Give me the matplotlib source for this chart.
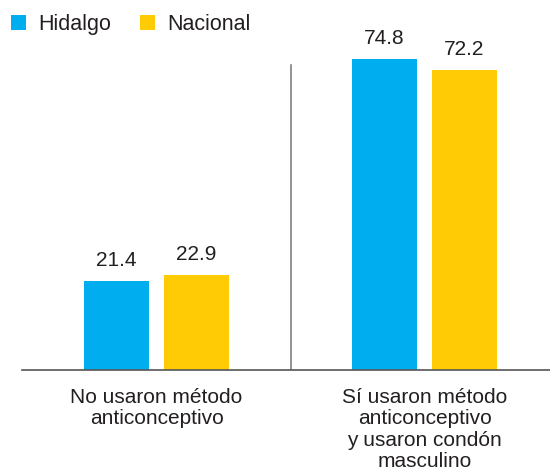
import matplotlib
matplotlib.use("Agg")
import matplotlib.pyplot as plt
import numpy as np

# data
categories = ["No usaron método\nanticonceptivo",
              "Sí usaron método\nanticonceptivo\ny usaron condón\nmasculino"]
series_names = ["Hidalgo", "Nacional"]
hidalgo = [21.4, 74.8]
nacional = [22.9, 72.2]

colors = ["#00AEEF", "#FFCB05"]
text_color = "#231F20"

plt.rcParams["font.family"] = ["Liberation Sans", "DejaVu Sans"]

fig = plt.figure(figsize=(5.5, 4.74), dpi=100)
ax = fig.add_axes([22 / 550, 104 / 474, 528 / 550, 370 / 474])

x = np.arange(len(categories))
offset = 0.149
width = 0.243

for vals, name, col, sgn in zip([hidalgo, nacional], series_names, colors, [-1, 1]):
    bars = ax.bar(x + sgn * offset, vals, width, color=col, label=name)
    for b, v in zip(bars, vals):
        ax.annotate(f"{v:.1f}", (b.get_x() + b.get_width() / 2, v),
                    xytext=(0, 8), textcoords="offset points",
                    ha="center", va="bottom", fontsize=15, color=text_color)

ax.set_xlim(-0.502, 1.468)
ax.set_ylim(0, 89)

# separator between the two groups
ax.plot([0.5, 0.5], [0, 73.3], color="#808080", lw=1.2)

for s in ["top", "right", "left"]:
    ax.spines[s].set_visible(False)
ax.spines["bottom"].set_color("#555555")
ax.spines["bottom"].set_linewidth(1.2)
ax.set_yticks([])
ax.set_xticks(x)
ax.set_xticklabels(categories, fontsize=15, color=text_color, linespacing=1.15)
ax.tick_params(axis="x", length=0, pad=13)

leg = fig.legend(loc="upper left", bbox_to_anchor=(0.0, 0.993), ncol=2,
                 frameon=False, fontsize=15.5, handlelength=0.7, handleheight=0.7,
                 handletextpad=0.6, columnspacing=1.3, borderaxespad=0.2,
                 borderpad=0.3)
for t in leg.get_texts():
    t.set_color(text_color)

fig.savefig("out.png", dpi=100)
